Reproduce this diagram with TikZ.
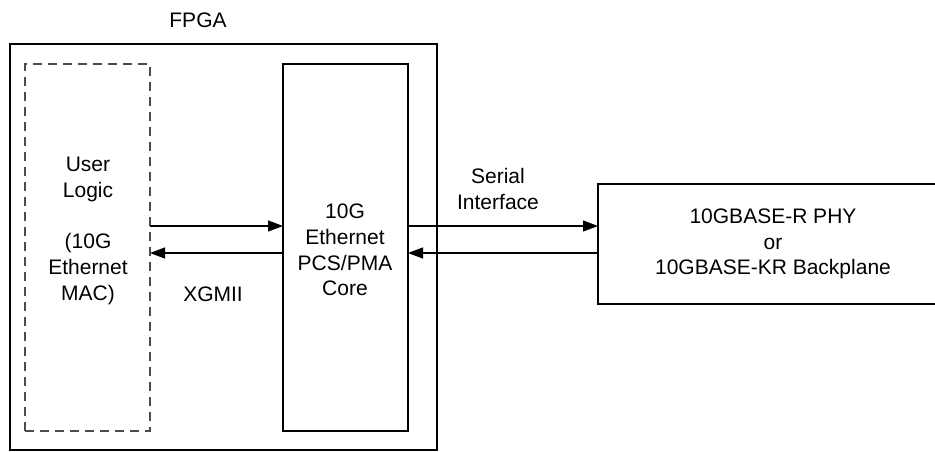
\documentclass[tikz,border=0pt]{standalone}
\usepackage{fontspec}
\setmainfont{Liberation Sans}
\usetikzlibrary{arrows.meta}
\begin{document}
\begin{tikzpicture}[x=1pt,y=-1pt,
  every node/.style={font=\fontsize{21}{25.7}\selectfont, align=center},
  box/.style={draw=black, line width=2.2pt, rectangle, inner sep=0pt, outer sep=0pt},
  dbox/.style={draw=black!70, line width=1.6pt, dash pattern=on 9pt off 6pt, rectangle, inner sep=0pt, outer sep=0pt},
  arr/.style={line width=1.1pt, -{Triangle[length=15pt,width=11pt]}},
  lbl/.style={inner sep=0pt}
]
\useasboundingbox (0,0) rectangle (935,451);
\fill[white] (0,0) rectangle (935,451);
% boxes
\node[box, minimum width=427pt, minimum height=406pt] (fpga) at (223.5,247) {};
\node[dbox, minimum width=125pt, minimum height=367pt] (user) at (87.5,247.5) {};
\node[box, minimum width=125pt, minimum height=367pt] (core) at (345.5,247.5) {};
\node[box, minimum width=340pt, minimum height=120pt] (phy) at (768,244) {};
% texts
\node[lbl] (fpgat) at (198,20) {FPGA};
\node[lbl] (usert) at (88,231) {User\\Logic\\[25.7pt](10G\\Ethernet\\MAC)};
\node[lbl] (coret) at (345,250) {10G\\Ethernet\\PCS/PMA\\Core};
\node[lbl] (phyt) at (773,244) {10GBASE-R PHY\\or\\10GBASE-KR Backplane};
\node[lbl] (serial) at (498,189) {Serial\\Interface};
\node[lbl] (xgmii) at (213,294) {XGMII};
% connectors
\draw[arr] (user.east |- 0,226) -- (core.west |- 0,226);
\draw[arr] (core.west |- 0,253) -- (user.east |- 0,253);
\draw[arr] (core.east |- 0,226) -- (phy.west |- 0,226);
\draw[arr] (phy.west |- 0,253) -- (core.east |- 0,253);
\end{tikzpicture}
\end{document}
